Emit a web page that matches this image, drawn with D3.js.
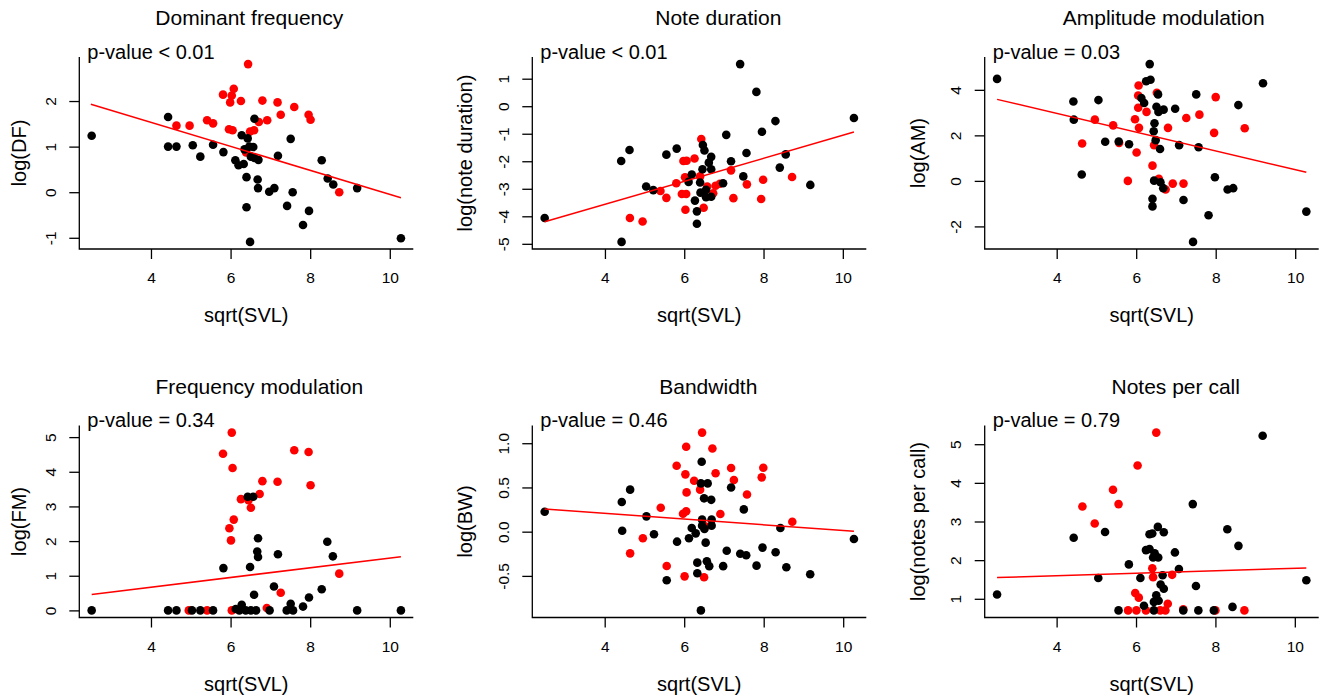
<!DOCTYPE html>
<html>
<head>
<meta charset="utf-8">
<script src="https://cdn.jsdelivr.net/npm/d3@7"></script>
<style>
  body { margin: 0; background: #fff; }
  svg { display: block; font-family: "Liberation Sans", Arial, Helvetica, sans-serif; }
</style>
</head>
<body>
<svg width="1325" height="697"></svg>
<script>
  // values: [sqrt(SVL), log(trait)]
  const dfBlack = [[2.51,1.24],[4.43,1.65],[4.43,1.0],[4.64,1.0],[5.05,1.03],[5.24,0.78],[5.56,1.04],[5.82,0.88],[6.12,0.70],[6.20,0.59],[6.33,0.62],[6.28,1.25],[6.43,1.18],[6.47,1.0],[6.35,0.94],[6.57,0.99],[6.51,0.78],[6.60,1.61],[6.60,0.75],[6.70,0.71],[6.40,0.33],[6.68,0.28],[6.69,0.09],[6.97,0.01],[7.10,0.09],[7.19,0.80],[7.51,1.17],[7.56,0.0],[6.40,-0.33],[7.42,-0.30],[7.97,-0.41],[7.82,-0.72],[6.49,-1.09],[8.29,0.70],[8.44,0.30],[8.58,0.17],[9.18,0.09],[10.28,-1.01]];
  const dfRed = [[6.44,2.81],[5.81,2.14],[6.08,2.27],[6.03,2.12],[5.99,1.97],[6.26,2.0],[6.80,2.01],[7.18,1.97],[7.60,1.87],[7.26,1.70],[7.96,1.70],[8.01,1.59],[6.92,1.58],[6.71,1.54],[5.41,1.58],[5.56,1.51],[4.97,1.46],[4.64,1.46],[5.96,1.38],[6.05,1.36],[6.49,1.33],[6.59,1.36],[8.73,0.0],[6.39,0.87]];
  const dfFit = [2.49, 1.93, 10.28, -0.12];

  const ndBlack = [[2.48,-4.06],[4.41,-1.99],[4.62,-1.59],[4.42,-4.93],[5.04,-2.92],[5.22,-3.05],[5.55,-1.76],[5.81,-1.54],[6.19,-2.48],[6.11,-2.75],[6.27,-3.43],[6.32,-3.82],[6.32,-4.27],[6.47,-1.41],[6.51,-1.61],[6.46,-2.29],[6.40,-2.77],[6.41,-3.14],[6.55,-3.04],[6.55,-3.31],[6.68,-3.29],[6.62,-2.05],[6.68,-1.84],[6.68,-2.29],[6.98,-2.80],[7.06,-1.04],[7.18,-2.0],[7.41,1.53],[7.49,-2.55],[7.57,-1.70],[7.82,0.52],[7.96,-0.93],[8.30,-0.54],[8.41,-2.23],[8.56,-1.75],[9.18,-2.86],[10.28,-0.43]];
  const ndRed = [[4.63,-4.06],[4.95,-4.19],[5.40,-3.08],[5.55,-3.33],[5.80,-2.80],[5.98,-1.99],[6.06,-1.98],[6.26,-1.90],[6.02,-2.58],[5.94,-3.19],[6.05,-3.19],[6.03,-3.76],[6.43,-1.19],[6.40,-2.55],[6.49,-3.69],[6.58,-2.92],[6.73,-3.16],[6.79,-2.89],[6.90,-2.82],[7.18,-2.33],[7.24,-3.34],[7.58,-2.84],[7.99,-2.67],[7.94,-3.37],[8.72,-2.57]];
  const ndFit = [2.48, -4.20, 10.28, -0.94];

  const amBlack = [[2.50,4.48],[4.42,3.49],[4.43,2.69],[4.63,0.28],[5.05,3.55],[5.22,1.72],[5.56,1.73],[5.82,1.61],[6.34,5.13],[6.25,4.38],[6.36,4.44],[6.13,3.64],[6.20,3.42],[6.51,3.26],[6.55,3.80],[6.56,3.03],[6.69,3.13],[6.98,3.17],[6.46,2.53],[6.44,2.18],[6.49,1.79],[6.60,1.40],[6.45,0.01],[6.61,-0.06],[6.68,-0.32],[6.41,-0.79],[6.41,-1.12],[7.08,1.57],[7.19,-0.84],[7.51,3.80],[7.57,1.48],[7.82,-1.51],[7.43,-2.68],[7.98,0.16],[8.30,-0.38],[8.44,-0.32],[8.57,3.33],[9.19,4.29],[10.28,-1.35]];
  const amRed = [[4.64,1.64],[4.96,2.69],[5.42,2.44],[5.57,1.67],[5.79,0.0],[5.97,2.71],[6.06,4.19],[6.05,3.75],[6.05,3.21],[6.07,2.33],[6.01,1.25],[6.26,3.03],[6.52,3.87],[6.45,1.57],[6.41,0.67],[6.57,0.09],[6.74,-0.38],[6.80,2.33],[6.92,-0.12],[7.19,-0.12],[7.26,2.76],[7.59,2.91],[8.0,3.68],[7.96,2.11],[8.73,2.31]];
  const amFit = [2.50, 3.58, 10.28, 0.38];

  const fmBlack = [[2.51,0],[4.43,0],[4.64,0],[5.03,0],[5.24,0],[5.56,0],[6.13,0.04],[6.28,0.16],[6.22,0],[6.38,0],[6.51,0],[6.64,0],[6.98,0],[7.41,0],[7.57,0],[7.51,0.19],[7.82,0.11],[9.18,0],[10.28,0],[5.82,1.22],[6.49,1.25],[6.59,0.45],[7.09,0.69],[7.97,0.37],[8.29,0.61],[6.69,2.08],[6.67,1.70],[6.69,1.54],[7.19,1.62],[8.43,1.98],[8.57,1.56],[6.43,3.28],[6.57,3.28]];
  const fmRed = [[6.03,5.13],[5.81,4.52],[6.05,4.11],[5.97,2.37],[6.08,2.62],[6.01,2.02],[6.26,3.21],[6.45,3.18],[6.51,2.96],[6.73,3.36],[6.80,3.73],[7.18,3.71],[7.60,4.62],[7.96,4.57],[8.01,3.61],[8.73,1.06],[7.26,0.51],[6.91,0.07],[6.03,0],[4.95,0],[5.41,0]];
  const fmFit = [2.51, 0.46, 10.28, 1.55];

  const bwBlack = [[2.49,0.226],[4.43,0.335],[4.64,0.475],[4.44,0.011],[5.05,0.173],[5.24,-0.03],[5.56,-0.55],[5.82,-0.113],[6.12,-0.075],[6.19,0.041],[6.29,-0.019],[6.44,0.79],[6.42,0.546],[6.59,0.546],[6.50,0.377],[6.68,0.36],[6.45,0.136],[6.45,0.068],[6.51,0.03],[6.69,0.136],[6.69,0.068],[6.54,-0.124],[6.33,-0.35],[6.33,-0.47],[6.57,-0.335],[6.63,-0.39],[6.42,-0.89],[6.98,-0.39],[7.07,-0.215],[7.18,0.50],[7.41,-0.25],[7.56,-0.267],[7.50,0.252],[7.82,-0.384],[7.97,-0.18],[8.30,-0.233],[8.42,0.041],[8.57,-0.403],[9.17,-0.482],[10.27,-0.083]];
  const bwRed = [[4.64,-0.245],[4.96,-0.075],[5.41,0.271],[5.56,-0.388],[5.81,0.746],[5.97,0.203],[6.05,0.23],[6.05,0.96],[6.03,0.648],[6.06,0.444],[6.01,-0.505],[6.25,0.576],[6.45,1.12],[6.40,0.475],[6.50,-0.516],[6.71,0.94],[6.79,0.66],[6.91,0.20],[7.18,0.72],[7.25,0.584],[7.58,0.42],[7.99,0.723],[7.95,0.614],[8.72,0.113],[6.53,0.06]];
  const bwFit = [2.49, 0.256, 10.27, 0.004];

  const npcBlack = [[2.50,1.11],[4.43,2.58],[5.05,1.54],[5.22,2.73],[5.56,0.70],[5.82,1.89],[6.11,1.54],[6.20,0.82],[6.25,2.26],[6.34,2.29],[6.34,2.67],[6.41,2.69],[6.55,2.86],[6.70,2.72],[6.47,2.18],[6.56,2.07],[6.43,2.07],[6.45,0.92],[6.51,1.09],[6.57,0.95],[6.45,0.70],[6.67,1.61],[6.62,1.37],[6.70,1.26],[6.98,2.20],[7.08,1.77],[7.19,0.70],[7.43,3.45],[7.51,1.33],[7.57,0.70],[7.96,0.70],[8.30,2.80],[8.43,0.79],[8.58,2.37],[9.19,5.22],[10.29,1.48]];
  const npcRed = [[4.65,3.39],[4.96,2.95],[5.42,3.82],[5.56,3.45],[6.04,4.45],[6.51,5.30],[5.80,0.70],[6.01,0.70],[5.98,1.15],[6.07,1.03],[6.25,0.70],[6.41,1.79],[6.43,1.56],[6.61,0.70],[6.74,0.70],[6.80,0.87],[6.91,1.62],[7.19,0.73],[8.0,0.70],[8.73,0.70]];
  const npcFit = [2.50, 1.55, 10.29, 1.80];

  const xTicks = [4, 6, 8, 10];
  const intFmt = d => String(d);
  const oneDec = d => d.toFixed(1);

  const panels = [
    { title: 'Dominant frequency', yLabel: 'log(DF)', pText: 'p-value < 0.01', black: dfBlack, red: dfRed, fit: dfFit, yTicks: [-1, 0, 1, 2], fmt: intFmt },
    { title: 'Note duration', yLabel: 'log(note duration)', pText: 'p-value < 0.01', black: ndBlack, red: ndRed, fit: ndFit, yTicks: [-5, -4, -3, -2, -1, 0, 1], fmt: intFmt },
    { title: 'Amplitude modulation', yLabel: 'log(AM)', pText: 'p-value = 0.03', black: amBlack, red: amRed, fit: amFit, yTicks: [-2, 0, 2, 4], fmt: intFmt },
    { title: 'Frequency modulation', yLabel: 'log(FM)', pText: 'p-value = 0.34', black: fmBlack, red: fmRed, fit: fmFit, yTicks: [0, 1, 2, 3, 4, 5], fmt: intFmt },
    { title: 'Bandwidth', yLabel: 'log(BW)', pText: 'p-value = 0.46', black: bwBlack, red: bwRed, fit: bwFit, yTicks: [-0.5, 0, 0.5, 1], fmt: oneDec },
    { title: 'Notes per call', yLabel: 'log(notes per call)', pText: 'p-value = 0.79', black: npcBlack, red: npcRed, fit: npcFit, yTicks: [1, 2, 3, 4, 5], fmt: intFmt }
  ];

  // layout
  const colLeft = [79.3, 532.3, 984.7];
  const rowTop = [57, 425.5];
  const plotW = 334, plotH = 192;
  const titleShift = [3, 19, 12, 13, 9, 24];
  const yLabelGap = [53, 60, 60];

  const svg = d3.select('svg');
  svg.append('rect').attr('width', 1325).attr('height', 697).attr('fill', '#fff');

  // R style axis range: data range widened by 4% each side
  const pad = e => {
    const d = (e[1] - e[0]) * 0.04;
    return [e[0] - d, e[1] + d];
  };

  panels.forEach((p, i) => {
    const col = i % 3, row = Math.floor(i / 3);
    const g = svg.append('g')
      .attr('transform', `translate(${colLeft[col]},${rowTop[row]})`);

    const all = p.black.concat(p.red);
    const x = d3.scaleLinear().domain(pad(d3.extent(all, d => d[0]))).range([0, plotW]);
    const y = d3.scaleLinear().domain(pad(d3.extent(all, d => d[1]))).range([plotH, 0]);

    const xAxisG = g.append('g')
      .attr('transform', `translate(0,${plotH})`)
      .call(d3.axisBottom(x).tickValues(xTicks).tickSize(10).tickSizeOuter(0).tickFormat(intFmt));
    xAxisG.select('.domain').remove();
    xAxisG.selectAll('.tick text')
      .attr('y', 34).attr('dy', null);

    const yAxisG = g.append('g')
      .call(d3.axisLeft(y).tickValues(p.yTicks).tickSize(10).tickSizeOuter(0).tickFormat(p.fmt));
    yAxisG.select('.domain').remove();
    yAxisG.selectAll('.tick text')
      .attr('x', 0).attr('y', 0).attr('dy', null)
      .attr('text-anchor', 'middle')
      .attr('transform', 'translate(-23.5,0) rotate(-90)');

    [xAxisG, yAxisG].forEach(a => a.attr('font-family', null).attr('font-size', 15.5));
    g.selectAll('.tick text').attr('fill', '#000');
    g.selectAll('.tick line').attr('stroke', '#000').attr('stroke-width', 1.3);

    // L-shaped box
    g.append('path')
      .attr('d', `M0,0V${plotH}H${plotW}`)
      .attr('fill', 'none')
      .attr('stroke', '#000')
      .attr('stroke-width', 1.3);

    g.selectAll('circle.red').data(p.red).enter().append('circle')
      .attr('class', 'red')
      .attr('cx', d => x(d[0]))
      .attr('cy', d => y(d[1]))
      .attr('r', 4.3)
      .attr('fill', '#ff0000');

    g.selectAll('circle.black').data(p.black).enter().append('circle')
      .attr('class', 'black')
      .attr('cx', d => x(d[0]))
      .attr('cy', d => y(d[1]))
      .attr('r', 4.3)
      .attr('fill', '#000');

    g.append('line')
      .attr('x1', x(p.fit[0])).attr('y1', y(p.fit[1]))
      .attr('x2', x(p.fit[2])).attr('y2', y(p.fit[3]))
      .attr('stroke', '#ff0000')
      .attr('stroke-width', 1.5);

    g.append('text')
      .attr('x', plotW / 2 + titleShift[i])
      .attr('y', -32)
      .attr('text-anchor', 'middle')
      .attr('font-size', 21)
      .text(p.title);

    g.append('text')
      .attr('x', 8)
      .attr('y', 1.5)
      .attr('font-size', 20)
      .text(p.pText);

    g.append('text')
      .attr('x', plotW / 2)
      .attr('y', plotH + 73)
      .attr('text-anchor', 'middle')
      .attr('font-size', 20)
      .text('sqrt(SVL)');

    g.append('text')
      .attr('transform', `translate(${-yLabelGap[col]},${plotH / 2}) rotate(-90)`)
      .attr('text-anchor', 'middle')
      .attr('font-size', 20)
      .text(p.yLabel);
  });
</script>
</body>
</html>
